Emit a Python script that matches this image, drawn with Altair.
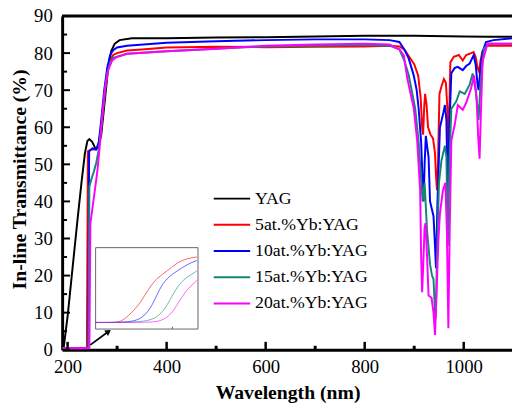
import altair as alt
import pandas as pd

FONT = "Liberation Serif"

series = ["YAG", "5at.%Yb:YAG", "10at.%Yb:YAG", "15at.%Yb:YAG", "20at.%Yb:YAG"]
colors = ["#000000", "#ff0000", "#0000ff", "#118877", "#ff00ff"]

# ---- main spectra: wavelength (nm) / in-line transmittance (%) ----
yag_wl = [190, 192, 200, 210, 220, 228, 235, 240, 244, 250, 256, 262, 268, 275, 282, 288, 295, 305, 330,
          400, 500, 600, 700, 800, 900, 1000, 1050, 1100]
yag_t = [0.3, 0.5, 9, 22, 35, 45, 53, 56.3, 56.8, 56, 54.3, 54.5, 58, 67, 76, 80.5, 82.5, 83.5, 84,
         84, 84.2, 84.3, 84.5, 84.7, 84.7, 84.5, 84.4, 84.4]

yb5_wl = [190, 236, 239, 241, 248, 256, 262, 268, 274, 280, 286, 292, 300, 320, 350, 400, 500, 600, 700, 800,
          850, 870, 880, 890, 900, 908, 913, 916, 918, 920, 922, 925, 928, 933, 938, 942, 944, 946, 948, 951,
          955, 960, 964, 967, 969, 971, 973, 980, 990, 998, 1005, 1015, 1020, 1024, 1028, 1031, 1034, 1038,
          1045, 1060, 1100]
yb5_t = [0.4, 0.4, 0.5, 53.5, 54, 54, 55, 60, 68, 74.5, 78, 79.5, 80, 80.7, 81, 81.5, 81.7, 81.6, 81.7, 81.8,
         82, 81.8, 81, 79, 77, 74, 68, 60, 58, 65, 69, 66, 60, 58, 57, 53, 47, 43, 50, 69,
         71, 73, 72, 65, 52, 65, 77.5, 79, 79.5, 78, 79.5, 80, 80.3, 79, 76, 75, 78, 80.5,
         82, 82, 82]

yb10_wl = [190, 239, 241.5, 243.5, 250, 258, 263, 268, 274, 280, 286, 292, 300, 320, 400, 500, 600, 700, 800,
           850, 870, 880, 889, 899, 905, 909, 914, 917, 919, 921, 923.5, 927, 929, 932, 939, 942, 944, 947,
           952, 959, 962, 965, 968, 971, 975, 982, 988, 998, 1005, 1012, 1020, 1024, 1028, 1030, 1034, 1038,
           1045, 1060, 1100]
yb10_t = [0.4, 0.4, 0.5, 53.5, 54.3, 54, 56, 62, 70, 76, 79.5, 80.8, 81.5, 82, 82.8, 83.2, 83.5, 83.7, 83.7,
          83.5, 83, 81, 78.5, 74, 70, 65, 56, 45, 40, 50, 57.7, 54, 52, 40, 36, 28, 22, 40,
          60, 64, 66, 62, 40, 60, 74.6, 76, 76.3, 75.4, 76.5, 77.2, 79.4, 77, 71.5, 70, 76, 80.3,
          83, 83.5, 84]

yb15_wl = [190, 240, 242, 244, 248, 253, 258, 263, 268, 274, 280, 286, 292, 300, 320, 400, 500, 600, 700, 800,
           850, 870, 880, 889, 902, 909, 913, 917, 921, 926, 932, 936, 939, 942, 943.5, 946, 950, 955, 962,
           965, 968, 971, 975, 985, 992, 1002, 1012, 1018, 1024, 1028, 1030, 1034, 1041, 1050, 1100]
yb15_t = [0.4, 0.4, 0.5, 44, 46, 48, 50.5, 54, 60, 68, 74.5, 77.5, 78.7, 79, 79.8, 80.5, 81.2, 81.8, 82, 82.2,
          82, 81, 78, 74, 65, 56, 48, 40, 45, 32, 23, 20, 19, 10, 8.5, 25, 45, 51, 55,
          52, 28, 50, 65, 67, 69.7, 69, 71.5, 74.5, 70, 65, 62, 72, 81.2, 82.5, 82.5]

yb20_wl = [190, 242, 244, 246, 250, 255, 260, 265, 270, 276, 282, 290, 300, 320, 400, 500, 600, 700, 800,
           850, 870, 879, 886, 899, 906, 912, 914, 916, 918, 921, 923, 926, 929, 935, 939, 942, 945, 949,
           952, 958, 963, 966, 969, 972, 975, 982, 988, 998, 1005, 1015, 1021, 1026, 1029, 1032, 1035, 1038,
           1048, 1100]
yb20_t = [0.4, 0.4, 0.5, 34, 38, 43, 48, 55, 63, 71, 75.5, 78, 79, 79.8, 80.5, 81.2, 82, 82.3, 82.5,
          82.3, 81, 79.4, 73.2, 65.2, 56.4, 43, 25, 15.5, 22, 33, 34.2, 25, 14.6, 14, 10, 4, 15, 30,
          36.8, 43, 45, 32, 5.8, 35, 56.4, 60.8, 66, 64.7, 66.6, 70.6, 74, 68, 58, 51.5, 65, 77.7,
          82.5, 82.5]

# ---- inset (absorption edge close-up, arbitrary units 0-100) ----
in_red_x = [0, 20, 25.3, 34.9, 44.5, 52.6, 60.6, 70.2, 79.8, 89.4, 99]
in_red_y = [8.1, 8.1, 9.3, 19.3, 33.4, 51.4, 63.5, 71.4, 81.9, 86.7, 88.6]
in_blue_x = [0, 34, 46.2, 55.8, 62.2, 70.2, 79.8, 89.4, 99]
in_blue_y = [8.1, 8.1, 13.3, 29.3, 49.4, 63.5, 71.4, 79.5, 84.3]
in_teal_x = [0, 45, 60.6, 70.2, 78.2, 86.2, 94.2, 99]
in_teal_y = [8.1, 8.1, 13.3, 29.3, 49.4, 61.4, 67.5, 71.7]
in_mag_x = [0, 50, 63.7, 73.4, 81.4, 89.4, 97.4, 99]
in_mag_y = [8.1, 8.1, 9.3, 17.2, 33.4, 49.4, 57.4, 60.2]
inset_tick_x = [75]

# arrow pointing to inset (wavelength, transmittance)
arrow_wl = [246, 282.5]
arrow_t = [1.3, 4.9]

# axis ticks
x_label_vals = [200, 400, 600, 800, 1000]
x_minor = [300, 500, 700, 900]
y_major = list(range(0, 91, 10))
y_minor = list(range(5, 90, 10))

W, H = 457, 339

rows = []
for name, wl, tt in zip(series, [yag_wl, yb5_wl, yb10_wl, yb15_wl, yb20_wl],
                        [yag_t, yb5_t, yb10_t, yb15_t, yb20_t]):
    for w, v in zip(wl, tt):
        rows.append({"series": name, "wl": w, "T": v})
df = pd.DataFrame(rows)

irows = []
for name, xs, ys in zip(series[1:], [in_red_x, in_blue_x, in_teal_x, in_mag_x],
                        [in_red_y, in_blue_y, in_teal_y, in_mag_y]):
    for a, b in zip(xs, ys):
        irows.append({"series": name, "ix": a, "iy": b})
idf = pd.DataFrame(irows)

color_scale = alt.Scale(domain=series, range=colors)
x_scale = alt.Scale(domain=[189, 1097.5], nice=False, zero=False)
y_scale = alt.Scale(domain=[0, 90], nice=False, zero=False)

x_axis = alt.Axis(values=x_label_vals, title="Wavelength (nm)", ticks=False, tickSize=0, grid=False,
                  domainWidth=3, domainColor="black", labelPadding=8, labelFontSize=19,
                  labelFont=FONT, labelColor="black", titleFont=FONT, titleFontSize=20,
                  titleFontWeight="bold", titleColor="black", titleY=44, titleBaseline="middle",
                  titleX=229, labelFlush=False, labelOverlap=False, format="d")
y_axis = alt.Axis(values=y_major, title="In-line Transmittance (%)", ticks=False, tickSize=0, grid=False,
                  domainWidth=3, domainColor="black", labelPadding=10, labelFontSize=19,
                  labelFont=FONT, labelColor="black", titleFont=FONT, titleFontSize=20,
                  titleFontWeight="bold", titleColor="black", titleX=-43, titleY=165.5,
                  titleBaseline="middle", titleAlign="center", labelFlush=False, labelOverlap=False)

X = lambda: alt.X("wl:Q", scale=x_scale, axis=x_axis)
Y = lambda: alt.Y("T:Q", scale=y_scale, axis=y_axis)

lines = alt.Chart(df).mark_line(strokeWidth=2, clip=True).encode(
    x=X(), y=Y(),
    color=alt.Color("series:N", scale=color_scale, legend=None),
    detail="series:N",
)

ymaj = alt.Chart(pd.DataFrame({"T": y_major})).mark_rule(color="black", strokeWidth=2).encode(
    y=Y(), x=alt.value(0), x2=alt.value(8))
ymin = alt.Chart(pd.DataFrame({"T": y_minor})).mark_rule(color="black", strokeWidth=2).encode(
    y=Y(), x=alt.value(0), x2=alt.value(5))
xmaj = alt.Chart(pd.DataFrame({"wl": x_label_vals})).mark_rule(color="black", strokeWidth=2.5).encode(
    x=X(), y=alt.value(H), y2=alt.value(H - 8))
xmin = alt.Chart(pd.DataFrame({"wl": x_minor})).mark_rule(color="black", strokeWidth=3).encode(
    x=X(), y=alt.value(H), y2=alt.value(H - 4))
top = alt.Chart(pd.DataFrame({"wl": [x_label_vals[0]]})).mark_rule(color="black", strokeWidth=3).encode(
    x=alt.value(0), x2=alt.value(W), y=alt.value(0))

adf = pd.DataFrame({"wl": arrow_wl, "T": arrow_t})
arrow_line = alt.Chart(adf).mark_line(color="black", strokeWidth=1.8).encode(x=X(), y=Y())
arrow_head = alt.Chart(adf.iloc[[1]]).mark_point(shape="triangle-up", angle=54, size=45, filled=True,
                                                 color="black", opacity=1).encode(x=X(), y=Y())

main = alt.layer(lines, ymaj, ymin, xmaj, xmin, top, arrow_line, arrow_head)

# inset
ix_scale = alt.Scale(domain=[0, 100], range=[34, 138], nice=False, zero=False)
iy_scale = alt.Scale(domain=[0, 100], range=[318, 235.3], nice=False, zero=False)
IX = lambda f="ix": alt.X(f"{f}:Q", scale=ix_scale, axis=None)
IY = lambda f="iy": alt.Y(f"{f}:Q", scale=iy_scale, axis=None)

frame_df = pd.DataFrame({"ix": [0], "ix2": [100], "iy": [0], "iy2": [100]})
inset_frame = alt.Chart(frame_df).mark_rect(fill="white", stroke="#666666", strokeWidth=1).encode(
    x=IX(), x2="ix2:Q", y=IY(), y2="iy2:Q")
inset_lines = alt.Chart(idf).mark_line(strokeWidth=1, opacity=0.6, interpolate="basis").encode(
    x=IX(), y=IY(), color=alt.Color("series:N", scale=color_scale, legend=None), detail="series:N")
tick_df = pd.DataFrame({"ix": inset_tick_x, "iy": [0], "iy2": [3]})
inset_tick = alt.Chart(tick_df).mark_rule(color="#666666", strokeWidth=1).encode(
    x=IX(), y=IY(), y2="iy2:Q")
inset = alt.layer(inset_frame, inset_lines, inset_tick)

# legend
ldf = pd.DataFrame({"series": series})
ly = alt.Y("series:N", sort=series, scale=alt.Scale(type="point", domain=series, range=[185.5, 292], padding=0),
           axis=None)
leg_rule = alt.Chart(ldf).mark_rule(strokeWidth=2).encode(
    y=ly, x=alt.value(154), x2=alt.value(191),
    color=alt.Color("series:N", scale=color_scale, legend=None))
leg_text = alt.Chart(ldf).mark_text(align="left", baseline="middle", font=FONT, fontSize=18,
                                    color="black").encode(y=ly, x=alt.value(196), text="series:N")
legend = alt.layer(leg_rule, leg_text)

chart = alt.layer(main, inset, legend).resolve_scale(
    x="independent", y="independent"
).properties(
    width=W, height=H,
    autosize=alt.AutoSizeParams(type="none"),
    padding={"left": 55, "top": 5, "right": 0, "bottom": 53},
).configure_view(strokeWidth=0)

chart.save("out.html", embed_options={"renderer": "svg", "actions": False})
